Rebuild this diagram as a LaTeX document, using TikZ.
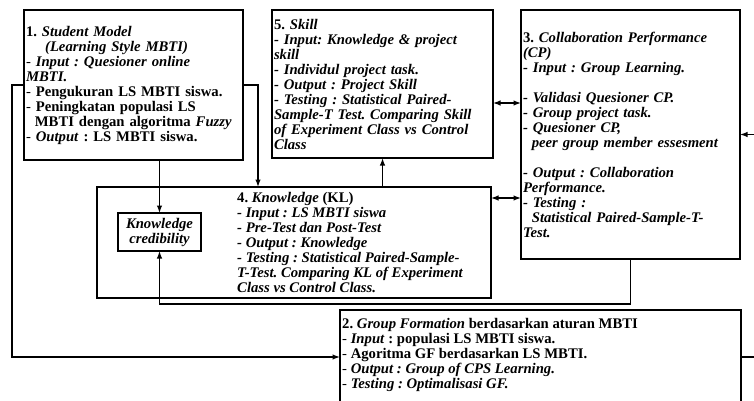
\documentclass[tikz,border=0pt]{standalone}
\usepackage{fontspec}
\setmainfont{Liberation Serif}
\usetikzlibrary{arrows.meta,positioning}
\frenchspacing

\begin{document}
\begin{tikzpicture}[x=1pt,y=-1pt,>={Latex[length=7.5pt,width=5.5pt]},
        block/.style={draw,rectangle,line width=1.5pt,outer sep=0pt,align=left,inner xsep=2pt,font=\fontsize{14.7}{15}\selectfont\bfseries},
        blocktext/.style={align=left,inner sep=0pt,font=\fontsize{14.7}{15}\selectfont\bfseries},
        wire/.style={line width=1.4pt}]
   \useasboundingbox (0,0) rectangle (754,401);
   \clip (0,0) rectangle (754,401);

   \node (student) [block,text width=215pt,minimum height=150pt,anchor=north west] at (24,10)
      {1. \textit{Student Model}\\
       \hspace*{1.3em}\textit{(Learning Style MBTI)}\\
       {\mdseries -} \textit{Input : Quesioner online}\\
       \textit{MBTI.}\\
       {\mdseries -} Pengukuran LS MBTI siswa.\\
       {\mdseries -} Peningkatan populasi LS\\
       \hspace*{0.6em}MBTI dengan algoritma \textit{Fuzzy}\\
       {\mdseries -} \textit{Output} : LS MBTI siswa.};
   \node (skill) [block,text width=217pt,minimum height=148pt,right=29pt of student.north east,anchor=north west]
      {5. \textit{Skill}\\
       \textit{- Input: Knowledge \& project}\\
       \textit{skill}\\
       \textit{- Individul project task.}\\
       \textit{- Output : Project Skill}\\
       \textit{- Testing : Statistical Paired-}\\
       \textit{Sample-T Test. Comparing Skill}\\
       \textit{of Experiment Class vs Control}\\
       \textit{Class}};
   \node (collab) [block,text width=215pt,minimum height=249pt,right=28pt of skill.north east,anchor=north west]
      {3. \textit{Collaboration Performance}\\
       \textit{(CP)}\\
       \textit{- Input : Group Learning.}\\[15pt]
       \textit{- Validasi Quesioner CP.}\\
       \textit{- Group project task.}\\
       \textit{- Quesioner CP,}\\
       \hspace*{0.6em}\textit{peer group member essesment}\\[15pt]
       \textit{- Output : Collaboration}\\
       \textit{Performance.}\\
       \textit{- Testing :}\\
       \hspace*{0.6em}\textit{Statistical Paired-Sample-T-}\\
       \textit{Test.}};
   \node (knowl) [block,minimum width=394pt,minimum height=111pt,anchor=north west] at (97,187) {};
   \node (knowltext) [blocktext,right=140pt of knowl.west]
      {4. \textit{Knowledge} (KL)\\
       \textit{- Input : LS MBTI siswa}\\
       \textit{- Pre-Test dan Post-Test}\\
       \textit{- Output : Knowledge}\\
       \textit{- Testing : Statistical Paired-Sample-}\\
       \textit{T-Test. Comparing KL of Experiment}\\
       \textit{Class vs Control Class.}};
   \node (cred) [block,align=center,minimum width=83pt,minimum height=38pt,inner sep=1pt,font=\fontsize{14.7}{15}\selectfont\bfseries\itshape] at (159.5,232)
      {Knowledge\\credibility};
   \node (group) [block,minimum width=401pt,minimum height=94pt,anchor=north west] at (340,310) {};
   \node (grouptext) [blocktext,anchor=north west] at (342,318)
      {2. \textit{Group Formation} berdasarkan aturan MBTI\\
       {\mdseries -} \textit{Input} : populasi LS MBTI siswa.\\
       {\mdseries -} Agoritma GF berdasarkan LS MBTI.\\
       {\mdseries -} \textit{Output : Group of CPS Learning.}\\
       {\mdseries -} \textit{Testing : Optimalisasi GF.}};

   \draw[wire,->] (student.west) -- ++(-12,0) |- (group.west);
   \draw[wire,->] (student.south -| cred.north) -- (cred.north);
   \draw[wire,->] (student.east) -- ++(15,0) coordinate (s1) -- (s1 |- knowl.north);
   \draw[wire,->] (skill.south |- knowl.north) -- (skill.south);
   \coordinate (k1) at ([yshift=-19pt]skill.east);
   \draw[wire,<->] (k1) -- (k1 -| collab.west);
   \coordinate (k2) at ([yshift=-11pt]knowl.north east);
   \draw[wire,<->] (k2) -- (k2 -| collab.west);
   \draw[wire,->] (collab.south) -- ++(0,45) -| (cred.south);
   \draw[wire,->] (group.east) -- ++(20,0) |- (collab.east);
\end{tikzpicture}
\end{document}
